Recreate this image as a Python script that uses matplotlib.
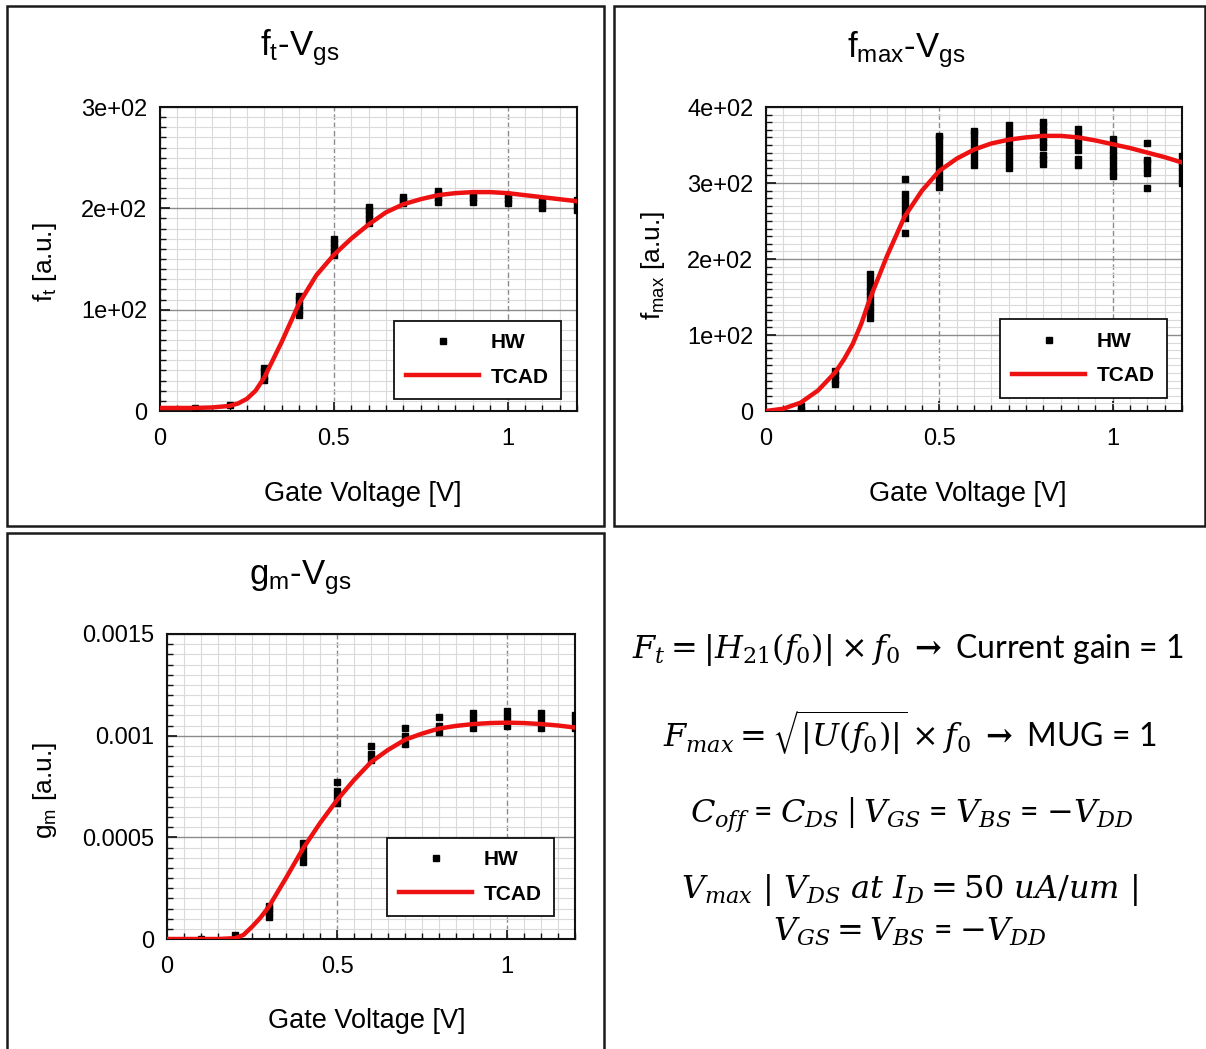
import numpy as np
import matplotlib
matplotlib.use("Agg")
import matplotlib.pyplot as plt
from matplotlib.patches import Rectangle
from matplotlib.ticker import FixedLocator, MultipleLocator, FixedFormatter

plt.rcParams['font.family'] = ['Liberation Sans', 'DejaVu Sans']
plt.rcParams['mathtext.fontset'] = 'dejavuserif'

# gate voltage of the measured (HW) points
hw_v = [0.1, 0.2, 0.3, 0.4, 0.5, 0.6, 0.7, 0.8, 0.9, 1.0, 1.1, 1.2]

# measured ft, several dies per voltage
ft_hw = [[3], [6], [31, 35, 39, 42], [95, 100, 105, 110, 113],
         [154, 158, 162, 166, 170], [186, 190, 194, 198, 201],
         [205, 208, 211], [206, 210, 214, 217], [206, 210, 214],
         [205, 209, 213], [200, 204, 208], [198, 203, 208]]

# measured fmax
fmax_hw = [[1, 6], [35, 41, 47, 52],
           [123, 130, 137, 144, 151, 158, 165, 172, 180],
           [234, 254, 262, 270, 278, 285, 305],
           [295, 303, 311, 319, 327, 335, 343, 351, 359, 362],
           [324, 332, 340, 348, 356, 364, 369],
           [320, 328, 336, 344, 352, 360, 368, 376],
           [325, 332, 337, 347, 354, 361, 368, 375, 380],
           [324, 331, 344, 351, 358, 365, 371],
           [309, 316, 323, 330, 337, 344, 351, 358],
           [293, 313, 320, 327, 330, 352],
           [300, 307, 314, 321, 328, 335]]

# measured gm
gm_hw = [[0.0], [0.00002], [0.00011, 0.00013, 0.00015, 0.00016],
         [0.00038, 0.00041, 0.00044, 0.00047],
         [0.00067, 0.0007, 0.00073, 0.00077],
         [0.00088, 0.00091, 0.00095], [0.00096, 0.001, 0.00104],
         [0.00102, 0.00105, 0.00109], [0.00104, 0.00108, 0.00111],
         [0.00105, 0.00109, 0.00112], [0.00104, 0.00108, 0.00111],
         [0.00104, 0.00107, 0.0011]]

# TCAD simulation
tcad_v = [0, 0.05, 0.1, 0.15, 0.2, 0.225, 0.25, 0.275, 0.3, 0.35, 0.4, 0.45,
          0.5, 0.55, 0.6, 0.65, 0.7, 0.75, 0.8, 0.85, 0.9, 0.95, 1.0, 1.05,
          1.1, 1.15, 1.2]
ft_tcad = [3, 3, 3, 3.5, 5, 7.5, 12, 20, 33, 68, 106, 134, 154, 170, 184, 196,
           204, 209, 213, 215, 216, 216, 215, 213, 211, 209, 207]
fmax_tcad = [0, 3, 11, 27, 51, 68, 88, 115, 148, 205, 256, 290, 316, 332, 344,
             352, 357, 360, 362, 362, 360, 356, 351, 346, 340, 334, 327]
gm_tcad = [0, 0, 0, 0, 0.000004, 0.00002, 0.00006, 0.000105, 0.00016, 0.0003,
           0.000445, 0.00057, 0.000683, 0.000782, 0.00087, 0.00093, 0.00098,
           0.00101, 0.001035, 0.001048, 0.001057, 0.001062, 0.001064,
           0.001062, 0.001057, 0.00105, 0.00104]

W, H = 1206, 1049
fig = plt.figure(figsize=(W / 100, H / 100), dpi=100)


def box(x0, y0, x1, y1):
    # panel frame, pixel coords from the top left
    fig.add_artist(Rectangle((x0 / W, 1 - y1 / H), (x1 - x0) / W, (y1 - y0) / H,
                             transform=fig.transFigure, fill=False,
                             edgecolor='#1a1a1a', linewidth=1.8))


def panel(rect, hw, tcad, ymax, ystep, yminor, ylabels, title, ylabel,
          title_xy, ylabel_xy, xlabel_xy, leg_anchor):
    x0, y0, x1, y1 = rect
    ax = fig.add_axes([x0 / W, 1 - y1 / H, (x1 - x0) / W, (y1 - y0) / H])
    ax.set_xlim(0, 1.2)
    ax.set_ylim(0, ymax)
    ax.xaxis.set_major_locator(FixedLocator([0, 0.5, 1]))
    ax.xaxis.set_major_formatter(FixedFormatter(['0', '0.5', '1']))
    ax.xaxis.set_minor_locator(MultipleLocator(0.05))
    yt = list(np.arange(0, ymax + ystep / 2, ystep))
    ax.yaxis.set_major_locator(FixedLocator(yt))
    ax.yaxis.set_major_formatter(FixedFormatter(ylabels))
    ax.yaxis.set_minor_locator(MultipleLocator(yminor))
    ax.tick_params(which='both', direction='in', top=False, right=False,
                   color='#111111')
    ax.tick_params(which='major', length=7, width=1.2, labelsize=17, pad=9)
    ax.tick_params(axis='x', which='major', pad=12)
    ax.tick_params(which='minor', length=4.5, width=1.0)
    ax.grid(which='minor', color='#dadada', linewidth=0.8)
    ax.grid(which='major', axis='y', color='#8c8c8c', linewidth=1.0)
    ax.grid(which='major', axis='x', color='#8c8c8c', linewidth=1.0,
            linestyle=(0, (4, 2)))
    ax.set_axisbelow(True)
    for s in ax.spines.values():
        s.set_linewidth(1.5)
        s.set_color('#111111')

    for i, (v, vals) in enumerate(zip(hw_v, hw)):
        ax.plot([v] * len(vals), vals, linestyle='none', marker='s',
                markersize=4.6, color='black', label='HW' if i == 0 else None,
                zorder=3)
    ax.plot(tcad_v, tcad, color='#ee1111', linewidth=3.2, label='TCAD',
            zorder=4)

    leg = ax.legend(loc='lower right', bbox_to_anchor=leg_anchor,
                    borderaxespad=0, frameon=True, fancybox=False,
                    framealpha=1, edgecolor='#111111', handlelength=3.5,
                    handletextpad=0.55, labelspacing=0.75, borderpad=0.6,
                    prop={'weight': 'bold', 'size': 15})
    leg.get_frame().set_linewidth(1.3)

    fig.text(title_xy[0] / W, 1 - title_xy[1] / H, title, ha='center',
             va='center', fontsize=25)
    fig.text(ylabel_xy[0] / W, 1 - ylabel_xy[1] / H, ylabel, ha='center',
             va='center', rotation=90, fontsize=19)
    fig.text(xlabel_xy[0] / W, 1 - xlabel_xy[1] / H, 'Gate Voltage [V]',
             ha='center', va='center', fontsize=19.5)
    return ax


box(7, 6, 604, 526)
box(614, 6, 1205, 526)
box(7, 533, 604, 1060)

panel((160, 107, 577, 411), ft_hw, ft_tcad, 300, 100, 10,
      ['0', '1e+02', '2e+02', '3e+02'],
      r'f$_\mathregular{t}$-V$_\mathregular{gs}$',
      r'f$_\mathregular{t}$ [a.u.]',
      (300, 48), (45, 262), (363, 494), (0.962, 0.039))

panel((766, 107, 1182, 411), fmax_hw, fmax_tcad, 400, 100, 10,
      ['0', '1e+02', '2e+02', '3e+02', '4e+02'],
      r'f$_\mathregular{max}$-V$_\mathregular{gs}$',
      r'f$_\mathregular{max}$ [a.u.]',
      (906, 50), (653, 265), (968, 494), (0.964, 0.043))

panel((167, 634, 575, 939), gm_hw, gm_tcad, 0.0015, 0.0005, 0.00005,
      ['0', '0.0005', '0.001', '0.0015'],
      r'g$_\mathregular{m}$-V$_\mathregular{gs}$',
      r'g$_\mathregular{m}$ [a.u.]',
      (300, 578), (45, 790), (367, 1021), (0.949, 0.075))

# definitions, bottom right
eq_font = ['Lato', 'DejaVu Sans']
arrow = r'$\mathbf{\rightarrow}$'
eqs = [
    (908, 650, r'$F_t = |H_{21}(f_0)| \times f_0$ ' + arrow + ' Current gain = 1'),
    (910, 733, r'$F_{max} = \sqrt{|U(f_0)|} \times f_0$ ' + arrow + ' MUG = 1'),
    (912, 815, r'$C_{off}$ = $C_{DS}$ | $V_{GS}$ = $V_{BS}$ = $-V_{DD}$'),
    (910, 890, r'$V_{max}\ |\ V_{DS}\ at\ I_D = 50\ uA/um\ |$'),
    (910, 932, r'$V_{GS} = V_{BS}$ = $-V_{DD}$'),
]
for x, y, s in eqs:
    fig.text(x / W, 1 - y / H, s, ha='center', va='center', fontsize=23,
             family=eq_font)

fig.savefig('out.png', dpi=100, facecolor='white')
